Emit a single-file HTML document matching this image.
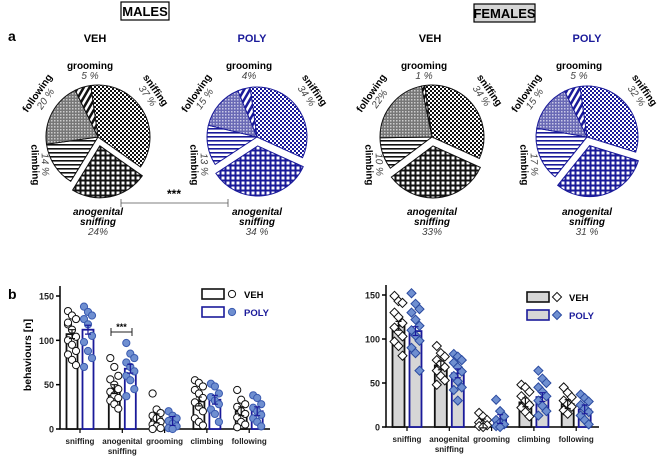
<!DOCTYPE html>
<html><head><meta charset="utf-8"><style>
body{margin:0;background:#fff;font-family:"Liberation Sans",Arial,sans-serif}
svg{display:block}
</style></head><body>
<svg id="fig" width="668" height="466" viewBox="0 0 668 466" xmlns="http://www.w3.org/2000/svg">
<defs>
<pattern id="chk-k" width="4" height="4" patternUnits="userSpaceOnUse"><rect width="4" height="4" fill="#fff"/><rect width="2" height="2" fill="#111"/><rect x="2" y="2" width="2" height="2" fill="#111"/></pattern>
<pattern id="chk-b" width="4" height="4" patternUnits="userSpaceOnUse"><rect width="4" height="4" fill="#fff"/><rect width="2" height="2" fill="#1a1a9a"/><rect x="2" y="2" width="2" height="2" fill="#1a1a9a"/></pattern>
<pattern id="grid-k" width="5" height="5" patternUnits="userSpaceOnUse"><rect width="5" height="5" fill="#111"/><rect x="1.5" y="1.5" width="3" height="3" fill="#fff"/></pattern>
<pattern id="grid-b" width="5" height="5" patternUnits="userSpaceOnUse"><rect width="5" height="5" fill="#1a1a9a"/><rect x="1.5" y="1.5" width="3" height="3" fill="#fff"/></pattern>
<pattern id="diag-k" width="5" height="5" patternUnits="userSpaceOnUse" patternTransform="rotate(30)"><rect width="5" height="5" fill="#fff"/><rect width="2.5" height="5" fill="#111"/></pattern>
<pattern id="diag-b" width="5" height="5" patternUnits="userSpaceOnUse" patternTransform="rotate(30)"><rect width="5" height="5" fill="#fff"/><rect width="2.5" height="5" fill="#1a1a9a"/></pattern>
<pattern id="hor-k" width="4" height="4" patternUnits="userSpaceOnUse"><rect width="4" height="4" fill="#fff"/><rect width="4" height="1.6" fill="#111"/></pattern>
<pattern id="hor-b" width="4" height="4" patternUnits="userSpaceOnUse"><rect width="4" height="4" fill="#fff"/><rect width="4" height="1.6" fill="#1a1a9a"/></pattern>
<pattern id="dot-k" width="3" height="3" patternUnits="userSpaceOnUse"><rect width="3" height="3" fill="#777"/><rect width="1.5" height="1.5" fill="#ccc"/></pattern>
<pattern id="dot-b" width="3" height="3" patternUnits="userSpaceOnUse"><rect width="3" height="3" fill="#6a6ab5"/><rect width="1.5" height="1.5" fill="#c8c8e6"/></pattern>
</defs>
<g font-weight="bold" font-size="13">
<rect x="121" y="2" width="48" height="18" fill="#fff" stroke="#000" stroke-width="1.2"/>
<text x="145" y="16" text-anchor="middle">MALES</text>
<rect x="474" y="4" width="61" height="18" fill="#d6d6d6" stroke="#000" stroke-width="1.2"/>
<text x="504.5" y="18" text-anchor="middle">FEMALES</text>
<text x="8" y="41" font-size="14">a</text>
<text x="8" y="299" font-size="14">b</text>
</g>
<g font-weight="bold" font-size="11">
<text x="95" y="42" text-anchor="middle">VEH</text>
<text x="252" y="42" text-anchor="middle" fill="#1a1a9a">POLY</text>
<text x="430" y="42" text-anchor="middle">VEH</text>
<text x="587" y="42" text-anchor="middle" fill="#1a1a9a">POLY</text>
</g>
<g id="pies"></g>
<g>
<line x1="121" y1="203" x2="228" y2="203" stroke="#555" stroke-width="0.8"/>
<line x1="121" y1="199" x2="121" y2="207" stroke="#555" stroke-width="0.8"/>
<line x1="228" y1="199" x2="228" y2="207" stroke="#555" stroke-width="0.8"/>
<text x="174" y="198" text-anchor="middle" font-size="12" font-weight="bold">***</text>
</g>
<g id="bars"></g>
</svg>
<script>
const NS='http://www.w3.org/2000/svg';
const svg=document.getElementById('fig');
function el(t,a,p){const e=document.createElementNS(NS,t);for(const k in a)e.setAttribute(k,a[k]);(p||svg).appendChild(e);return e;}

// ---- pie data ----
const pieCats=['sniffing','anogenital','climbing','following','grooming'];
const maleVehPct=[37,24,14,20,5];
const malePolyPct=[34,34,13,15,4];
const femaleVehPct=[34,33,10,22,1];
const femalePolyPct=[32,31,17,15,5];
const pieLabels={maleVeh:['37 %','24%','14 %','20 %','5 %'],malePoly:['34 %','34 %','13 %','15 %','4%'],femaleVeh:['34 %','33%','10 %','22%','1 %'],femalePoly:['32 %','31 %','17 %','15 %','5 %']};

const pieG=document.getElementById('pies');
const pats=['chk','grid','hor','dot','diag'];
// label placement relative to centre: [dx,dy,rotation,percent line offset]
const labPos=[[55,-45,55,10],[0,78,0,0],[-66,28,88,-10],[-58,-42,-55,10],[-8,-68,0,10]];
function pie(name,vals,labs,cx,cy,r,col,suf){
  const g=el('g',{},pieG);
  
  
  let a=-8*Math.PI/180;
  const tot=vals.reduce((s,v)=>s+v,0);
  vals.forEach((v,i)=>{
    const sw=v/tot*2*Math.PI, a0=a, a1=a+sw, am=a+sw/2;
    const off=i===1?9:0;
    const ox=cx+off*Math.sin(am), oy=cy-off*Math.cos(am);
    const x0=ox+r*Math.sin(a0),y0=oy-r*Math.cos(a0),x1=ox+r*Math.sin(a1),y1=oy-r*Math.cos(a1);
    const p=el('path',{d:`M${ox},${oy}L${x0},${y0}A${r},${r} 0 ${sw>Math.PI?1:0} 1 ${x1},${y1}Z`,fill:`url(#${pats[i]}-${suf})`,stroke:col,'stroke-width':1},g);
    
    
    const [dx,dy,rot,po]=labPos[i];
    const tg=el('g',{transform:`translate(${cx+dx},${cy+dy}) rotate(${rot})`},g);
    
    
    if(i===1){
      const t1=el('text',{x:0,y:0,'text-anchor':'middle','font-size':10,'font-weight':'bold','font-style':'italic'},tg);t1.textContent='anogenital';
      const t2=el('text',{x:0,y:10,'text-anchor':'middle','font-size':10,'font-weight':'bold','font-style':'italic'},tg);t2.textContent='sniffing';
      const t3=el('text',{x:0,y:20,'text-anchor':'middle','font-size':10,'font-style':'italic',fill:'#444'},tg);t3.textContent=labs[i];
    } else {
      const t1=el('text',{x:0,y:0,'text-anchor':'middle','font-size':10,'font-weight':'bold'},tg);t1.textContent=pieCats[i];
      const t2=el('text',{x:0,y:po,'text-anchor':'middle','font-size':10,'font-style':'italic',fill:'#444'},tg);t2.textContent=labs[i];
    }
    a=a1;
  });
}
pie('male-veh',maleVehPct,pieLabels.maleVeh,98,137,52,'#111','k');
pie('male-poly',malePolyPct,pieLabels.malePoly,257,137,50,'#1a1a9a','b');
pie('female-veh',femaleVehPct,pieLabels.femaleVeh,432,137,52,'#111','k');
pie('female-poly',femalePolyPct,pieLabels.femalePoly,587,137,51,'#1a1a9a','b');

// ---- bar data ----
const barCats=['sniffing','anogenital sniffing','grooming','climbing','following'];
const yTicks=[0,50,100,150];
const maleVehMean=[107,45,12,31,20];
const malePolyMean=[112,68,9,33,20];
const femaleVehMean=[115,70,4,28,26];
const femalePolyMean=[109,61,9,34,20];
const maleVehPts=[[133,128,124,118,112,104,100,95,88,84,78,72,120],[80,70,60,56,50,45,42,38,35,32,28,23],[40,22,18,15,12,8,5,3,1,0],[55,52,48,44,40,35,30,25,20,12,8,4],[44,33,28,25,20,17,13,8,5,2]];
const malePolyPts=[[138,132,128,124,118,105,98,88,80,70],[97,85,80,75,70,65,60,55,45,37],[20,15,12,9,6,3,1,0],[51,48,40,36,32,28,22,17,8],[38,35,28,24,20,16,12,8,3]];
const femaleVehPts=[[149,143,141,130,125,118,113,108,103,97,92,81],[92,84,80,76,72,68,64,58,53,48],[16,12,8,5,3,2,1,0],[48,45,40,35,30,25,22,17,12],[45,39,34,30,26,23,19,15]];
const femalePolyPts=[[152,140,134,130,122,115,110,104,98,90,84,64],[83,80,76,73,68,63,58,52,45,42,30],[31,18,12,8,5,3,1,0],[64,55,50,45,40,35,30,24,18,13],[37,33,29,25,21,17,13,8,3]];

const bg=document.getElementById('bars');
function barChart(name,ox,y0,y150,xEnd,first,gap,barW,off,vM,pM,vP,pP,female){
  const g=el('g',{},bg);
  
  
  const y=v=>y0-(v/150)*(y0-y150);
  const gx=i=>ox+first+i*gap;
  const ax=el('path',{d:`M${ox},${y150-10}V${y0}H${xEnd}`,fill:'none',stroke:'#000','stroke-width':1.5},g);
  
  yTicks.forEach(t=>{
    el('line',{x1:ox-4,x2:ox,y1:y(t),y2:y(t),stroke:'#000','stroke-width':1.5},g);
    const tx=el('text',{x:ox-6,y:y(t)+3.5,'text-anchor':'end','font-size':9,'font-weight':'bold',fill:'#222'},g);
    tx.textContent=t;
    
  });
  barCats.forEach((c,i)=>{
    const cx=gx(i);
    el('line',{x1:cx,x2:cx,y1:y0,y2:y0+4,stroke:'#000','stroke-width':1.2},g);
    c.split(' ').forEach((w,k)=>{
      const t=el('text',{x:cx,y:y0+15+k*10,'text-anchor':'middle','font-size':8,'font-weight':'bold',fill:'#222'},g);
      t.textContent=w;
      
    });
    [[vM,vP,'#111','#fff',-off],[pM,pP,'#1a1a9a','#6f8fd0',off]].forEach(([M,P,sc,pf,dx],s)=>{
      const bc=cx+dx, bx=bc-barW/2;
      const b=el('rect',{x:bx,y:y(M[i]),width:barW,height:y0-y(M[i]),fill:female?'#d6d6d6':'#fff',stroke:sc,'stroke-width':1.8},g);
      
      
      P[i].forEach((v,k)=>{
        const px=bc+((k%3)-1)*4;
        let m;
        if(female) m=el('rect',{x:px-3.2,y:y(v)-3.2,width:6.4,height:6.4,transform:`rotate(45 ${px} ${y(v)})`,fill:pf,stroke:s?'#2a4aa0':'#111','stroke-width':1},g);
        else m=el('circle',{cx:px,cy:y(v),r:3.6,fill:pf,stroke:s?'#3a5ab0':'#111','stroke-width':1},g);
        
        
      });
      el('path',{d:`M${bc-3},${y(M[i]+5)}H${bc+3}M${bc},${y(M[i]+5)}V${y(M[i]-5)}M${bc-3},${y(M[i]-5)}H${bc+3}`,stroke:sc,'stroke-width':1.2},g);
    });
  });
  const lx=female?527:202, ly=female?292:289;
  [['VEH','#111','#000'],['POLY','#1a1a9a','#1a1a9a']].forEach(([t,sc,tc],s)=>{
    const lg=el('g',{},g);
    
    
    el('rect',{x:lx,y:ly+s*18,width:22,height:10,fill:female?'#d6d6d6':'#fff',stroke:sc,'stroke-width':1.6},lg);
    const mx=lx+30,my=ly+s*18+5;
    if(female) el('rect',{x:mx-3.2,y:my-3.2,width:6.4,height:6.4,transform:`rotate(45 ${mx} ${my})`,fill:s?'#6f8fd0':'#fff',stroke:s?'#2a4aa0':'#111'},lg);
    else el('circle',{cx:mx,cy:my,r:3.6,fill:s?'#6f8fd0':'#fff',stroke:s?'#3a5ab0':'#111'},lg);
    const tt=el('text',{x:lx+42,y:my+4,'font-size':9.5,'font-weight':'bold',fill:tc},lg);tt.textContent=t;
  });
}
barChart('male',60,429,296,270,20,42.3,11,8,maleVehMean,malePolyMean,maleVehPts,malePolyPts,false);
barChart('female',386,427,295,599,21,42.3,12,8.5,femaleVehMean,femalePolyMean,femaleVehPts,femalePolyPts,true);

const yl=el('text',{x:0,y:0,transform:'translate(31,355) rotate(-90)','text-anchor':'middle','font-size':10.5,'font-weight':'bold'});
yl.textContent='behaviours  [n]';


const sg=el('g',{});


el('path',{d:'M111,328V336M111,332H132M132,328V336',stroke:'#222','stroke-width':1,fill:'none'},sg);
const st=el('text',{x:121.5,y:330,'text-anchor':'middle','font-size':9,'font-weight':'bold'},sg);st.textContent='***';
</script>
</body></html>
